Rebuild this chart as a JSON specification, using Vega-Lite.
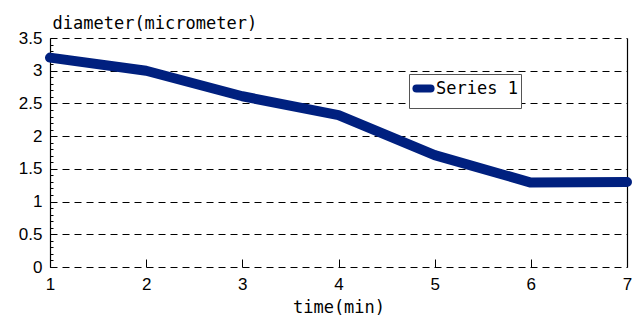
{
  "$schema": "https://vega.github.io/schema/vega-lite/v6.json",
  "width": 577,
  "height": 229,
  "autosize": {"type": "none"},
  "padding": {"left": 50, "top": 38, "right": 5, "bottom": 49},
  "background": "white",
  "config": {
    "view": {"stroke": null},
    "axis": {"labelFont": "Liberation Sans", "labelFontSize": 17, "labelColor": "black", "titleFont": "DejaVu Sans Mono", "titleFontSize": 17, "titleFontWeight": "normal", "titleColor": "black", "domainColor": "black", "domainWidth": 1.2, "tickColor": "black", "tickWidth": 1}
  },
  "data": {"values": [
    {"time": 1, "diameter": 3.2, "series": "Series 1"},
    {"time": 2, "diameter": 3.0, "series": "Series 1"},
    {"time": 3, "diameter": 2.61, "series": "Series 1"},
    {"time": 4, "diameter": 2.32, "series": "Series 1"},
    {"time": 5, "diameter": 1.71, "series": "Series 1"},
    {"time": 6, "diameter": 1.29, "series": "Series 1"},
    {"time": 7, "diameter": 1.3, "series": "Series 1"}
  ]},
  "layer": [
    {
      "mark": {"type": "line", "strokeWidth": 10, "strokeCap": "round", "strokeJoin": "round", "clip": false},
      "encoding": {
        "x": {"field": "time", "type": "quantitative", "scale": {"domain": [1, 7], "nice": false, "zero": false},
          "axis": {"title": "time(min)", "values": [1,2,3,4,5,6,7], "format": "d", "labelFlush": false, "grid": false, "domain": false, "ticks": true, "tickSize": -8, "labelPadding": 17, "titleY": 45, "titleBaseline": "alphabetic"}},
        "y": {"field": "diameter", "type": "quantitative", "scale": {"domain": [0, 3.5], "nice": false},
          "axis": {"title": "diameter(micrometer)", "titleAngle": 0, "titleAlign": "left", "titleX": 2, "titleY": -10, "titleBaseline": "alphabetic",
            "domain": true, "ticks": true,
            "values": [0,0.1,0.2,0.3,0.4,0.5,0.6,0.7,0.8,0.9,1,1.1,1.2,1.3,1.4,1.5,1.6,1.7,1.8,1.9,2,2.1,2.2,2.3,2.4,2.5,2.6,2.7,2.8,2.9,3,3.1,3.2,3.3,3.4,3.5],
            "labelExpr": "abs(datum.value*2 - round(datum.value*2)) < 0.001 ? datum.label : ''",
            "tickSize": {"condition": {"test": "abs(datum.value*2 - round(datum.value*2)) < 0.001", "value": -6}, "value": -3},
            "grid": true,
            "gridDash": [7, 5],
            "gridColor": "black",
            "gridOpacity": {"condition": {"test": "abs(datum.value*2 - round(datum.value*2)) < 0.001", "value": 1}, "value": 0},
            "labelPadding": 14, "labelFlush": false, "format": "~g"}},
        "color": {"field": "series", "type": "nominal", "scale": {"range": ["#00207f"]},
          "legend": {"title": null, "orient": "none", "legendX": 359, "legendY": 36, "symbolType": "stroke", "symbolStrokeWidth": 8, "symbolSize": 200, "labelFont": "DejaVu Sans Mono", "labelFontSize": 17, "labelColor": "black", "strokeColor": "#555", "fillColor": "white", "padding": 3, "labelOffset": 1,
            "encode": {"symbols": {"update": {"strokeCap": {"value": "round"}}}}}}
      }
    },
    {
      "mark": {"type": "line", "opacity": 0},
      "encoding": {
        "x": {"field": "time", "type": "quantitative"},
        "y": {"field": "diameter", "type": "quantitative", "axis": {"orient": "right", "labels": false, "ticks": false, "grid": false, "title": null, "domain": true}}
      }
    }
  ],
  "resolve": {"axis": {"y": "independent"}}
}
